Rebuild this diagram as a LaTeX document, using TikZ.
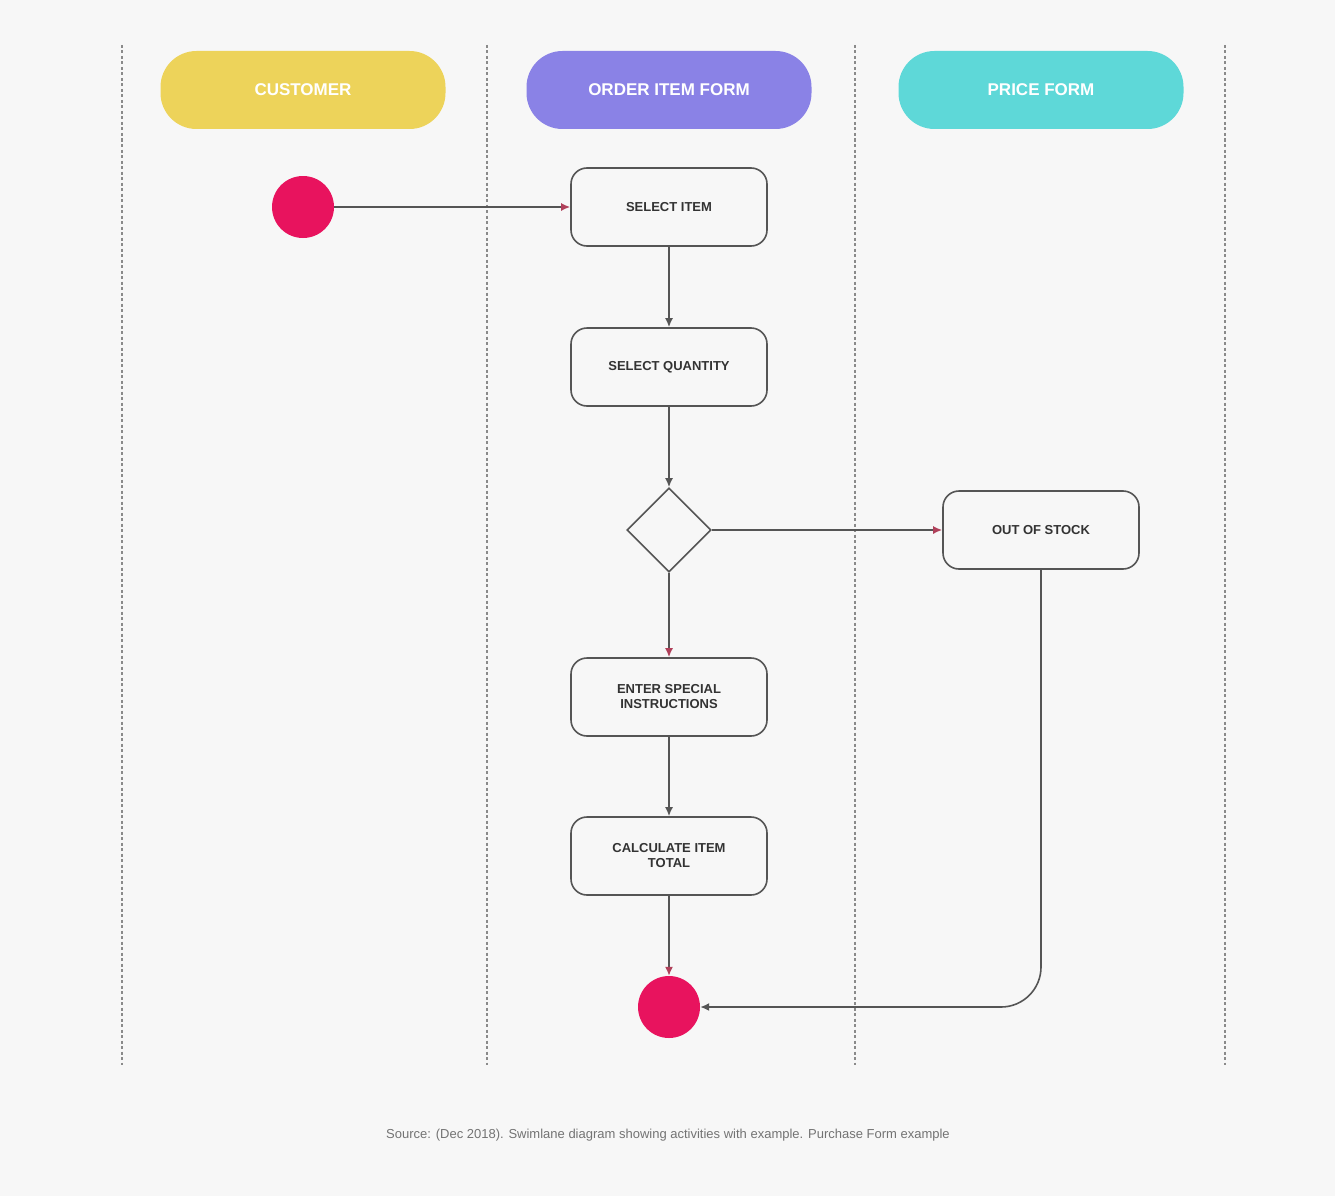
\documentclass[tikz,border=0pt]{standalone}
\usepackage{fontspec}
\setmainfont{Liberation Sans}
\usetikzlibrary{shapes.geometric,arrows.meta}
\definecolor{bg}{HTML}{F7F7F7}
\definecolor{lane}{HTML}{8A8A8A}
\definecolor{ylw}{HTML}{EDD35A}
\definecolor{prp}{HTML}{8A82E6}
\definecolor{cyn}{HTML}{5ED8D8}
\definecolor{mag}{HTML}{E8135E}
\definecolor{edge}{HTML}{555555}
\definecolor{tip}{HTML}{B0405A}
\tikzset{
  lanestyle/.style={draw=lane, line width=1.6pt, dash pattern=on 3pt off 2.5pt},
  header/.style={rounded corners=36pt, minimum width=285pt, minimum height=78pt, text=white, font=\fontsize{17}{19}\selectfont\bfseries},
  actbox/.style={draw=edge, line width=1.6pt, fill=bg, rounded corners=16pt, minimum width=196pt, minimum height=78pt, align=center, text=black!80, font=\fontsize{13}{15}\selectfont\bfseries},
  dot/.style={circle, fill=mag, minimum size=62pt, inner sep=0pt},
  choice/.style={diamond, draw=edge, line width=1.6pt, fill=bg, minimum width=84pt, minimum height=84pt, inner sep=0pt},
  flow/.style={draw=edge, line width=1.6pt, -{Latex[length=9pt,width=8pt]}},
  flowp/.style={flow, -{Latex[length=9pt,width=8pt,color=tip]}}
}
\begin{document}
\begin{tikzpicture}[x=1pt,y=-1pt]
\useasboundingbox (0,0) rectangle (1335,1196);
\fill[bg] (0,0) rectangle (1335,1196);
% lanes
\foreach \lx/\nm in {122/l1,487/l2,855/l3,1225/l4} {
  \coordinate (\nm t) at (\lx,45);
  \coordinate (\nm b) at (\lx,1065);
  \draw[lanestyle] (\nm t) -- (\nm b);
}
% headers
\node[header, fill=ylw] (h1) at (303,90) {CUSTOMER};
\node[header, fill=prp] (h2) at (669,90) {ORDER ITEM FORM};
\node[header, fill=cyn] (h3) at (1041,90) {PRICE FORM};
% nodes
\node[dot] (start) at (303,207) {};
\node[actbox] (sel) at (669,207) {SELECT ITEM};
\node[actbox] (qty) at (669,367) {SELECT QUANTITY};
\node[choice] (dec) at (669,530) {};
\node[actbox] (oos) at (1041,530) {OUT OF STOCK};
\node[actbox] (spec) at (669,697) {ENTER SPECIAL\\INSTRUCTIONS};
\node[actbox] (calc) at (669,856) {CALCULATE ITEM\\TOTAL};
\node[dot] (stop) at (669,1007) {};
% connectors
\draw[flowp] (start) -- (sel);
\draw[flow] (sel) -- (qty);
\draw[flow] (qty) -- (dec);
\draw[flowp] (dec) -- (oos);
\draw[flowp] (dec) -- (spec);
\draw[flow] (spec) -- (calc);
\draw[flowp] (calc) -- (stop);
\draw[flow, rounded corners=40pt] (oos.south) -- (1041,1007) -- (stop.east);
% footer
\node[text=black!55, font=\fontsize{13}{15}\selectfont] (foot) at (668,1135) {Source: (Dec 2018). Swimlane diagram showing activities with example. Purchase Form example};
\end{tikzpicture}
\end{document}
